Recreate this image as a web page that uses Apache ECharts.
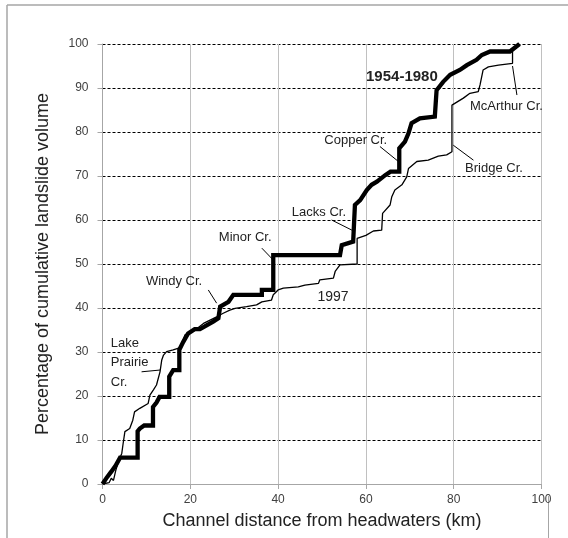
<!DOCTYPE html>
<html>
<head>
<meta charset="utf-8">
<script src="https://cdn.jsdelivr.net/npm/echarts@6/dist/echarts.min.js"></script>
<style>
html,body{margin:0;padding:0;background:#fff;}
#chart{width:568px;height:538px;}
</style>
</head>
<body>
<div id="chart"></div>
<script>
// Cumulative landslide volume (%) vs channel distance (km)
const series1954_1980 = [
  [0,0],[1,1.5],[2,2.8],[3,4.2],[4,6],[8,6],[8,12],[8.5,12.6],[9.5,13.3],[11.5,13.3],
  [11.5,17.5],[12.3,18.5],[13,19.8],[15.2,19.8],[15.2,24.4],[16.1,25.9],[17.5,25.9],
  [17.5,30.5],[18.4,32.3],[19.5,34.2],[21,35.2],[22.2,35.2],[23.3,35.8],[25.2,36.9],
  [26.4,37.7],[26.8,37.7],[26.8,40.3],[28.7,41.4],[29.8,43],[36.3,43],[36.3,44.1],
  [38.9,44.1],[38.9,52],[54.1,52],[54.5,54.3],[57.1,55.1],[57.5,55.1],[57.5,63.4],
  [58.7,64.5],[60.2,66.8],[61.3,68],[62.5,68.7],[64.4,70.2],[65.6,71],[67.6,71],
  [67.6,76.3],[68.9,77.8],[69.7,79.7],[70.4,82],[72.3,83.1],[75.7,83.5],[76.1,83.5],
  [76.1,89.5],[77.6,91.4],[79.2,93],[81.4,94.1],[83,95.2],[85.2,96.4],[86.4,97.5],
  [88.3,98.3],[92.8,98.3],[95,100]
];
const series1997 = [
  [0,0],[1.5,0.3],[2,1.3],[2.5,0.8],[3,3],[3.5,4.7],[4.4,7],[4.7,9.2],[5.1,11.9],
  [6.2,12.6],[6.9,14.5],[7.3,16.4],[8.5,17.2],[10.4,18.3],[10.8,20.2],[11.6,21.4],
  [12.3,22.5],[13.1,25.5],[13.5,28.2],[13.9,29.3],[14.6,30.1],[16.1,30.5],[17.7,31],
  [18.8,33.9],[21.1,35],[23,36.5],[26,38],[27.5,38.8],[29,39.5],[30.2,39.9],[32.8,40.3],
  [35.1,40.7],[36.3,41.4],[38.5,41.8],[38.9,43],[40,44.1],[41.2,44.5],[44.6,44.8],
  [46.1,45.2],[49.2,45.6],[49.5,46.4],[52.6,46.8],[53,48.3],[54.1,49.8],[58,50],
  [58,55.8],[60,56.5],[61.7,57.5],[63.6,57.7],[63.8,61.5],[65.5,63.4],[65.9,65.3],
  [66.6,66.8],[68.2,68],[69.3,69.8],[69.7,71.7],[71.6,73.3],[74.2,73.6],[76.5,74.5],
  [78.4,74.8],[79.6,75.5],[79.6,86.1],[82.2,87.7],[83.7,88.8],[85.6,89.2],[86,90.7],
  [86.7,94.1],[87.9,94.8],[90.2,95.2],[93.4,95.6],[93.4,99],[95,100]
];
const xTicks = [0,20,40,60,80,100];
const yTicks = [0,10,20,30,40,50,60,70,80,90,100];
// annotation labels (data coordinates) and leader lines
const labelTexts = ['1954-1980','McArthur Cr.','Copper Cr.','Bridge Cr.','Lacks Cr.','Minor Cr.','Windy Cr.','1997','Lake\nPrairie\nCr.'];
const labelPos = [[68.2,92.5],[83.7,85.9],[57.7,78],[82.6,71.8],[49.3,61.8],[32.5,56],[16.3,46.1],[52.5,42.5],[1.9,27.6]];
const labelAlign = ['center','left','center','left','center','center','center','center','left'];
const labelFont = ['bold 15px','13px','13px','13px','13px','13px','13px','14px','13px'];
const leaders = [
  [[94.4,88.4],[93.4,95]],
  [[63.2,76.7],[67.4,73.3]],
  [[84.5,73.6],[79.9,77]],
  [[52.2,60],[56.8,57.7]],
  [[36.3,53.6],[38.9,50.9]],
  [[24.1,44.1],[26,41.1]],
  [[8.9,25.5],[13.1,25.9]]
];

const chart = echarts.init(document.getElementById('chart'), null, {renderer:'canvas'});
const FONT = '"Liberation Sans", Arial, sans-serif';
chart.setOption({
  animation:false,
  backgroundColor:'#ffffff',
  grid:{left:102.5, right:26.5, top:44, bottom:54},
  xAxis:{
    type:'value', min:0, max:100, interval:20,
    name:'Channel distance from headwaters (km)', nameLocation:'middle', nameGap:28,
    nameTextStyle:{fontFamily:FONT, fontSize:18, color:'#222'},
    axisLine:{show:true, lineStyle:{color:'#a6a6a6', width:1}},
    axisTick:{show:true, length:5, lineStyle:{color:'#a6a6a6'}},
    axisLabel:{margin:10, fontFamily:FONT, fontSize:12, color:'#404040',
      formatter:v=> xTicks.includes(v)? String(v):''},
    splitLine:{show:true, lineStyle:{color:'#c0c0c0', width:1}}
  },
  yAxis:{
    type:'value', min:0, max:100, interval:10,
    name:'Percentage of cumulative landslide volume', nameLocation:'middle', nameGap:50,
    nameTextStyle:{fontFamily:FONT, fontSize:18, color:'#222'},
    axisLine:{show:true, lineStyle:{color:'#a6a6a6', width:1}},
    axisTick:{show:true, length:5, lineStyle:{color:'#a6a6a6'}},
    axisLabel:{margin:14, fontFamily:FONT, fontSize:12, color:'#404040',
      formatter:v=> yTicks.includes(v)? String(v):''},
    splitLine:{show:true, lineStyle:{color:'#000', width:1, type:[3,2]}}
  },
  series:[
    {name:'1997', type:'line', data:series1997, showSymbol:false, symbol:'none',
     lineStyle:{color:'#000', width:1.3}, z:3},
    {name:'1954-1980', type:'line', data:series1954_1980, showSymbol:false, symbol:'none',
     lineStyle:{color:'#000', width:4.3, join:'miter'}, z:4}
  ]
});

function draw(){
  const els = [];
  // frame lines
  els.push({type:'line', shape:{x1:7,y1:5,x2:568,y2:5}, style:{stroke:'#a6a6a6', lineWidth:1.5}, silent:true});
  els.push({type:'line', shape:{x1:7,y1:5,x2:7,y2:538}, style:{stroke:'#a6a6a6', lineWidth:1.5}, silent:true});
  els.push({type:'line', shape:{x1:548.5,y1:496,x2:548.5,y2:538}, style:{stroke:'#a6a6a6', lineWidth:1}, silent:true});
  labelTexts.forEach((t,i)=>{
    const p = chart.convertToPixel({gridIndex:0}, labelPos[i]);
    els.push({type:'text', x:p[0], y:p[1], z:10,
      style:{text:t, fill:'#222', font:labelFont[i]+' '+FONT,
        align:labelAlign[i], verticalAlign:'middle', lineHeight:19.5}});
  });
  leaders.forEach(l=>{
    const a = chart.convertToPixel({gridIndex:0}, l[0]);
    const b = chart.convertToPixel({gridIndex:0}, l[1]);
    els.push({type:'line', z:10, shape:{x1:a[0],y1:a[1],x2:b[0],y2:b[1]}, style:{stroke:'#000', lineWidth:1}});
  });
  chart.setOption({graphic:{elements:els}});
}
draw();
</script>
</body>
</html>
